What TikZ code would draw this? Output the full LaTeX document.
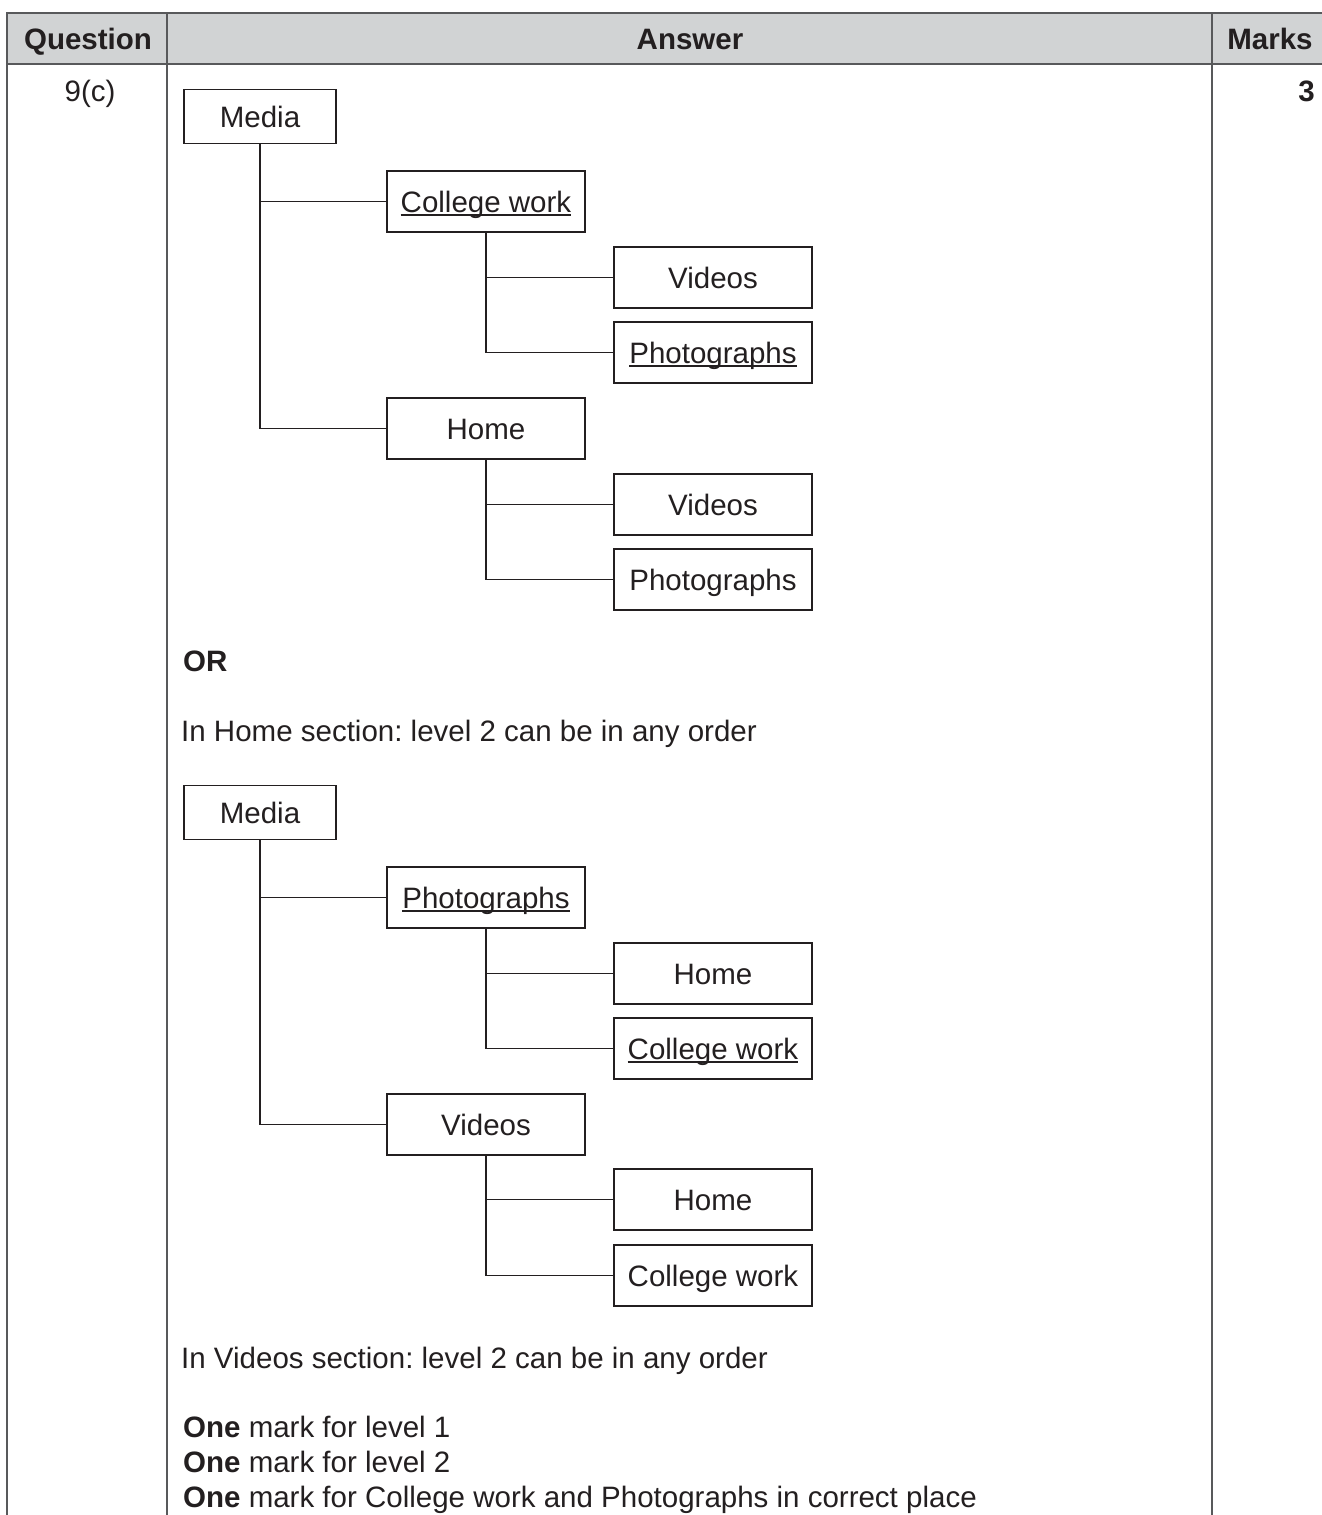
\documentclass[tikz,border=0pt]{standalone}
\usepackage{fontspec}
\setmainfont{Liberation Sans}
\definecolor{hdr}{RGB}{209,211,212}
\definecolor{rule}{RGB}{88,89,91}
\definecolor{ink}{RGB}{35,31,32}
\newcommand\ulx[1]{{\setbox0\hbox{#1}\rlap{\rule[-4pt]{\wd0}{1.8pt}}\box0}}
\frenchspacing
\begin{document}
\begin{tikzpicture}[x=1pt,y=-1pt,
  font=\fontsize{29.5}{35}\selectfont\frenchspacing,
  box/.style={draw=ink, line width=1.4pt, minimum width=198pt, minimum height=61pt,
    inner sep=0pt, text height=21pt, text depth=0pt, text=ink},
  rootbox/.style={box, minimum width=152pt, minimum height=54pt},
  link/.style={draw=ink, line width=1.4pt},
  txt/.style={anchor=base west, inner sep=0pt, text=ink},
  tbl/.style={draw=rule, line width=2pt}]
\useasboundingbox (0,0) rectangle (1322,1515);
% table
\fill[hdr] (7,13) rectangle (1322,64);
\draw[tbl] (1322,13) -- (7,13) -- (7,1515);
\draw[tbl] (7,64) -- (1322,64);
\draw[tbl] (167,13) -- (167,1515);
\draw[tbl] (1212,13) -- (1212,1515);
\node[anchor=base, inner sep=0pt, text=ink, font=\fontsize{29.5}{35}\selectfont\bfseries] (hq) at (88,49.5) {Question};
\node[anchor=base, inner sep=0pt, text=ink, font=\fontsize{29.5}{35}\selectfont\bfseries] (ha) at (690,49.5) {Answer};
\node[anchor=base, inner sep=0pt, text=ink, font=\fontsize{29.5}{35}\selectfont\bfseries] (hm) at (1270,49.5) {Marks};
\node[anchor=base, inner sep=0pt, text=ink] (qn) at (90,101) {9(c)};
\node[anchor=base east, inner sep=0pt, text=ink, font=\fontsize{29.5}{35}\selectfont\bfseries] (mk) at (1315,101) {3};
% tree 1
\node[rootbox] (m1) at (260,116.5) {Media};
\node[box] (c1) at (486,201.5) {\ulx{College work}};
\node[box] (c1v) at (713,277.5) {Videos};
\node[box] (c1p) at (713,352.5) {\ulx{Photographs}};
\node[box] (h1) at (486,428.5) {Home};
\node[box] (h1v) at (713,504.5) {Videos};
\node[box] (h1p) at (713,579.5) {Photographs};
\draw[link] (m1.south) |- (c1.west);
\draw[link] (m1.south) |- (h1.west);
\draw[link] (c1.south) |- (c1v.west);
\draw[link] (c1.south) |- (c1p.west);
\draw[link] (h1.south) |- (h1v.west);
\draw[link] (h1.south) |- (h1p.west);
% text
\node[txt, font=\fontsize{29.5}{35}\selectfont\bfseries] (or) at (183,671) {OR};
\node[txt] (t1) at (181,741) {In Home section: level 2 can be in any order};
% tree 2
\node[rootbox] (m2) at (260,812.5) {Media};
\node[box] (p2) at (486,897.5) {\ulx{Photographs}};
\node[box] (p2h) at (713,973.5) {Home};
\node[box] (p2c) at (713,1048.5) {\ulx{College work}};
\node[box] (v2) at (486,1124.5) {Videos};
\node[box] (v2h) at (713,1199.5) {Home};
\node[box] (v2c) at (713,1275.5) {College work};
\draw[link] (m2.south) |- (p2.west);
\draw[link] (m2.south) |- (v2.west);
\draw[link] (p2.south) |- (p2h.west);
\draw[link] (p2.south) |- (p2c.west);
\draw[link] (v2.south) |- (v2h.west);
\draw[link] (v2.south) |- (v2c.west);
% text
\node[txt] (t2) at (181,1368) {In Videos section: level 2 can be in any order};
\node[txt] (t3) at (183,1437) {\textbf{One} mark for level 1};
\node[txt] (t4) at (183,1472) {\textbf{One} mark for level 2};
\node[txt] (t5) at (183,1507) {\textbf{One} mark for College work and Photographs in correct place};
\end{tikzpicture}
\end{document}
